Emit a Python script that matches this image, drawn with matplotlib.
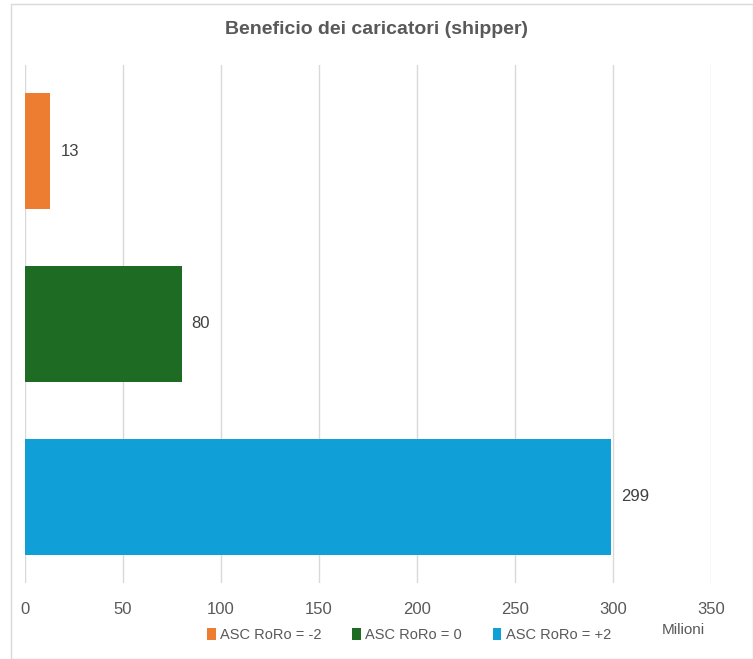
import matplotlib
matplotlib.use("Agg")
import matplotlib.pyplot as plt
from matplotlib.patches import Patch, Rectangle
from matplotlib import font_manager as fm

names = {f.name for f in fm.fontManager.ttflist}
fam = 'Liberation Sans Narrow' if 'Liberation Sans Narrow' in names else 'Liberation Sans'
plt.rcParams['font.family'] = [fam, 'DejaVu Sans']

series = ["ASC RoRo = -2", "ASC RoRo = 0", "ASC RoRo = +2"]
values = [13, 80, 299]
colors = ["#ED7D31", "#1E6B24", "#119FD8"]
xticks = [0, 50, 100, 150, 200, 250, 300, 350]

W, H = 753, 659
fig = plt.figure(figsize=(W/100, H/100), dpi=100)
fig.patches.append(Rectangle((11/W, 0), 1 - 11/W, 1 - 4/H, transform=fig.transFigure,
                             fill=False, edgecolor="#D9D9D9", linewidth=1))
ax = fig.add_axes([25/W, 1 - 583/H, (711-25)/W, (583-65)/H])

pos = [2, 1, 0]
for p, v, c in zip(pos, values, colors):
    ax.barh(p, v, height=0.67, color=c, zorder=3)
    ax.text(v + 5, p, f"{v}", va="center", ha="left", fontsize=12, color="#404040")

ax.set_xlim(0, 350)
ax.set_ylim(-0.5, 2.5)
ax.set_xticks(xticks)
ax.set_xticklabels([str(t) for t in xticks], fontsize=12, color="#595959")
ax.tick_params(axis='x', length=0, pad=14)
ax.set_yticks([])
ax.grid(axis='x', color="#D9D9D9", linewidth=1, zorder=0)
for s in ax.spines.values():
    s.set_visible(False)

fig.text(0.5, 1 - 30/H, "Beneficio dei caricatori (shipper)", ha="center", va="center",
         fontsize=14, fontweight="bold", color="#595959")
fig.text(683/W, 1 - 630/H, "Milioni", ha="center", va="center", fontsize=11, color="#595959")

handles = [Patch(facecolor=c, label=s) for s, c in zip(series, colors)]
fig.legend(handles=handles, loc="center", bbox_to_anchor=(409/W, 1 - 635/H), ncol=3,
           frameon=False, fontsize=10.5, handlelength=0.6, handleheight=0.9,
           handletextpad=0.3, columnspacing=2.1, labelcolor="#595959")

fig.savefig("out.png", dpi=100)
